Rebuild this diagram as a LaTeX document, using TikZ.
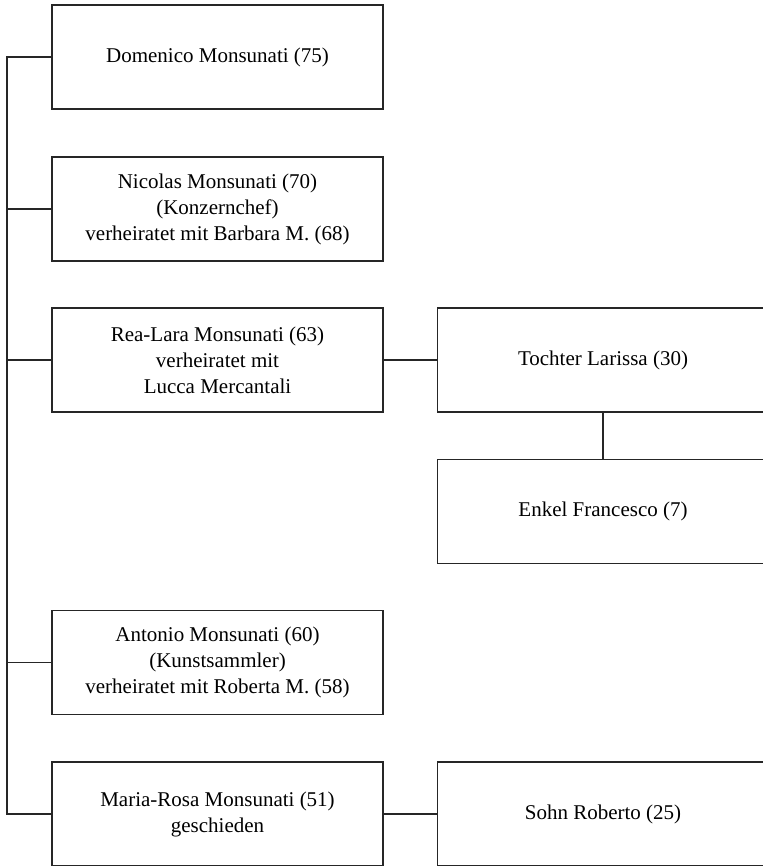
\documentclass[tikz,border=0pt]{standalone}
\usepackage{fontspec}
\setmainfont{Liberation Serif}
\begin{document}
\begin{tikzpicture}[x=1pt,y=-1pt,
  person/.style={draw=black!85, line width=1.3pt, minimum width=331pt, minimum height=104pt,
    align=center, inner sep=2pt, font=\fontsize{21}{26}\selectfont},
  conn/.style={draw=black!85, line width=1.3pt}]
\useasboundingbox (0,0) rectangle (762,866);
\node[person] (dom) at (217.5,57) {Domenico Monsunati (75)};
\node[person] (nic) at (217.5,209) {Nicolas Monsunati (70)\\(Konzernchef)\\verheiratet mit Barbara M. (68)};
\node[person] (rea) at (217.5,360) {Rea-Lara Monsunati (63)\\verheiratet mit\\Lucca Mercantali};
\node[person] (ant) at (217.5,662.5) {Antonio Monsunati (60)\\(Kunstsammler)\\verheiratet mit Roberta M. (58)};
\node[person] (mar) at (217.5,814) {Maria-Rosa Monsunati (51)\\geschieden};
\node[person] (toc) at (603,360) {Tochter Larissa (30)};
\node[person] (enk) at (603,511.5) {Enkel Francesco (7)};
\node[person] (soh) at (603,814) {Sohn Roberto (25)};
\coordinate (top) at (7,57);
\coordinate (bot) at (7,814);
\draw[conn] (dom.west) -- (top) -- (bot) -- (mar.west);
\draw[conn] (nic.west) -- (nic.west -| top);
\draw[conn] (rea.west) -- (rea.west -| top);
\draw[conn] (ant.west) -- (ant.west -| top);
\draw[conn] (rea.east) -- (toc.west);
\draw[conn] (toc.south) -- (enk.north);
\draw[conn] (mar.east) -- (soh.west);
\end{tikzpicture}
\end{document}
